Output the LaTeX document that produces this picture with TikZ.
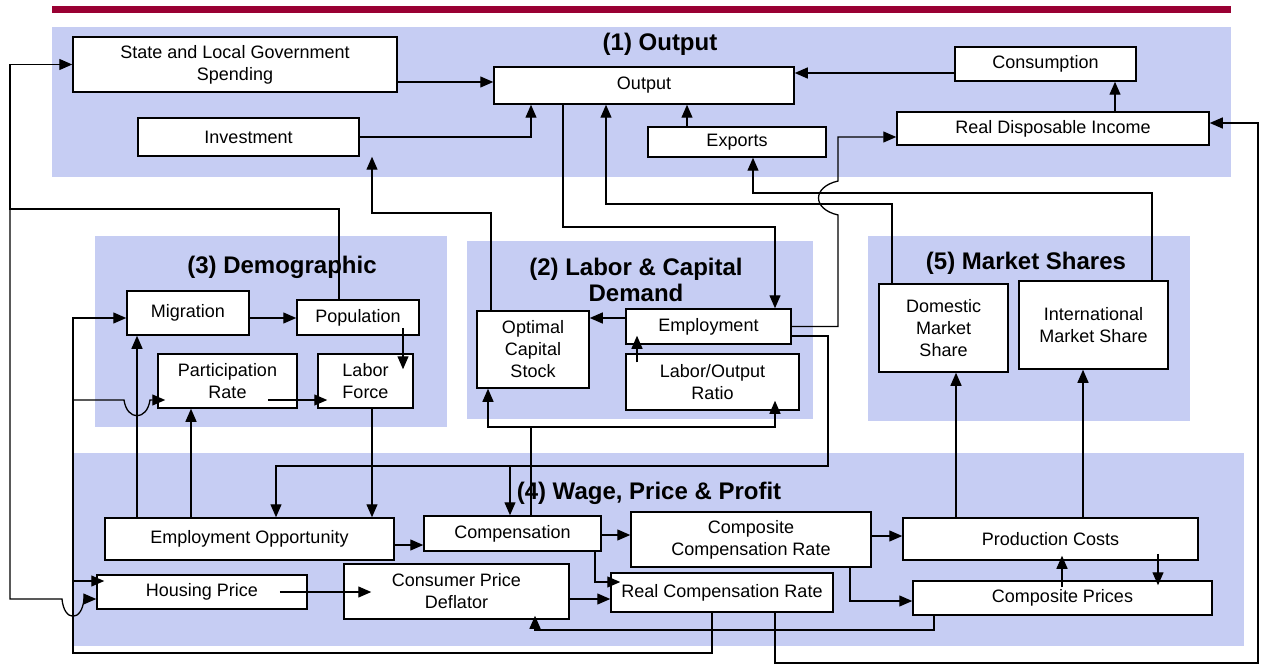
\documentclass[tikz,border=0pt]{standalone}
\usepackage{fontspec}
\setmainfont{Liberation Sans}
\usepackage{tikz}
\usetikzlibrary{arrows.meta}
\definecolor{panelblue}{RGB}{198,205,243}
\definecolor{barred}{RGB}{153,0,51}
\newcommand{\boxfont}{\fontsize{18}{22}\selectfont}
\newcommand{\headfont}{\fontsize{24}{26}\selectfont\bfseries}

\begin{document}
\begin{tikzpicture}[x=1pt, y=-1pt,
  box/.style={draw, line width=1.5pt, fill=white, inner sep=0pt, align=center, font=\boxfont},
  heading/.style={align=center, font=\headfont},
  panel/.style={fill=panelblue},
  flow/.style={-{Triangle[length=13pt,width=11pt]}, line width=1.3pt}]
\useasboundingbox (0,0) rectangle (1263,671);
\fill[barred] (52,6) rectangle (1231,13);
\fill[panel] (52,27) rectangle (1231,177);
\fill[panel] (95,236) rectangle (447,427);
\fill[panel] (467,241) rectangle (813,419);
\fill[panel] (868,236) rectangle (1190,421);
\fill[panel] (73,453) rectangle (1244,646);

\node (HeadOutput) [heading] at (660,44) {(1) Output};
\node (HeadDemographic) [heading] at (282,267) {(3) Demographic};
\node (HeadLabor) [heading] at (636,280) {(2) Labor \& Capital\\Demand};
\node (HeadMarket) [heading] at (1026,263) {(5) Market Shares};
\node (HeadWage) [heading] at (649,493) {(4) Wage, Price \& Profit};

\node (SLGS) [box, minimum width=324pt, minimum height=55pt] at (235,64.5) {State and Local Government\\Spending};
\node (Output) [box, minimum width=300pt, minimum height=37pt] at (644,85.5) {Output};
\node (Consumption) [box, minimum width=181pt, minimum height=34pt] at (1045.5,64) {Consumption};
\node (Investment) [box, minimum width=221pt, minimum height=38pt] at (248.5,137) {Investment};
\node (Exports) [box, minimum width=178pt, minimum height=30pt] at (737,142) {Exports};
\node (RDI) [box, minimum width=312pt, minimum height=33pt] at (1053,128.5) {Real Disposable Income};

\node (Migration) [box, minimum width=122pt, minimum height=44pt] at (188,313) {Migration};
\node (Population) [box, minimum width=122pt, minimum height=35pt] at (358,317.5) {Population};
\node (Participation) [box, minimum width=139pt, minimum height=54pt] at (227.5,381) {Participation\\Rate};
\node (LaborForce) [box, minimum width=95pt, minimum height=54pt] at (365.5,381) {Labor\\Force};

\node (OCS) [box, minimum width=112pt, minimum height=77pt] at (533,349.5) {Optimal\\Capital\\Stock};
\node (Employment) [box, minimum width=165pt, minimum height=35pt] at (708.5,326.5) {Employment};
\node (LORatio) [box, minimum width=173pt, minimum height=56pt] at (712.5,382) {Labor/Output\\Ratio};

\node (DMS) [box, minimum width=129pt, minimum height=88pt] at (943.5,328) {Domestic\\Market\\Share};
\node (IMS) [box, minimum width=149pt, minimum height=88pt] at (1093.5,325) {International\\Market Share};

\node (EO) [box, minimum width=289pt, minimum height=42pt] at (249.5,539) {Employment Opportunity};
\node (Comp) [box, minimum width=177pt, minimum height=35pt] at (512.5,533.5) {Compensation};
\node (CCR) [box, minimum width=240pt, minimum height=55pt] at (751,539.5) {Composite\\Compensation Rate};
\node (PC) [box, minimum width=295pt, minimum height=42pt] at (1050.5,539) {Production Costs};
\node (Housing) [box, minimum width=210pt, minimum height=34pt] at (202,592) {Housing Price};
\node (CPD) [box, minimum width=225pt, minimum height=55pt] at (456.5,591.5) {Consumer Price\\Deflator};
\node (RCR) [box, minimum width=222pt, minimum height=39pt] at (722,592.5) {Real Compensation Rate};
\node (CP) [box, minimum width=299pt, minimum height=34pt] at (1062.5,598) {Composite Prices};

\coordinate (PopBend) at (10,209);
\coordinate (RcrBend) at (73,653);
\coordinate (CompBend) at (531,427);
\coordinate (EmpBend) at (510,466);

% (1) output
\draw[flow] (SLGS.east |- 0,82) -- (Output.west |- 0,82);
\draw[flow] (Investment.east) -| (531,0 |- Output.south);
\draw[flow] (Consumption.west |- 0,73) -- (Output.east |- 0,73);
\draw[flow] (1115,0 |- RDI.north) -- (1115,0 |- Consumption.south);
\draw[flow] (687,0 |- Exports.north) -- (687,0 |- Output.south);
\draw[flow] (563,0 |- Output.south) |- (775,227) -- (775,0 |- Employment.north);
\draw[flow] (491,0 |- OCS.north) |- (372,213) -- (372,0 |- Investment.south);
\draw[flow] (Employment.east) -| (838,215) .. controls (812,209) and (812,187) .. (838,181) |- (RDI.west |- 0,137);
\draw[flow] (892,0 |- DMS.north) |- (606,204) -- (606,0 |- Output.south);
\draw[flow] (1152,0 |- IMS.north) |- (753,193) -- (753,0 |- Exports.south);

% (3) demographic
\draw[flow] (339,0 |- Population.north) |- (PopBend) |- (SLGS.west);
\draw[flow] (PopBend) |- (62,599) .. controls (64,622) and (82,622) .. (84,599) -- (Housing.west |- 0,599);
\draw[flow] (712,0 |- RCR.south) |- (RcrBend) |- (Migration.west |- 0,318);
\draw[flow, shorten >=-8pt] (73,400) -- (124,400) .. controls (127,421) and (147,421) .. (150,400) -- (Participation.west |- 0,400);
\draw[flow, shorten >=-8pt] (73,581) -- (Housing.west |- 0,581);
\draw[flow] (137,0 |- EO.north) -- (137,0 |- Migration.south);
\draw[flow] (191,0 |- EO.north) -- (191,0 |- Participation.south);
\draw[flow] (372,0 |- LaborForce.south) -- (372,0 |- EO.north);
\draw[flow, shorten <=-8pt, shorten >=-16pt] (403,0 |- Population.south) -- (403,0 |- LaborForce.north);
\draw[flow] (Migration.east |- 0,318) -- (Population.west |- 0,318);
\draw[flow, shorten <=-30pt, shorten >=-10pt] (Participation.east |- 0,400) -- (LaborForce.west |- 0,400);

% (2) labor and capital
\draw[flow] (Employment.west |- 0,318) -- (OCS.east |- 0,318);
\draw[flow, shorten <=-9pt, shorten >=-9pt] (637,0 |- LORatio.north) -- (637,0 |- Employment.south);
\draw[flow] (531,0 |- Comp.north) |- (CompBend) -| (488,0 |- OCS.south);
\draw[flow, shorten >=-10pt] (CompBend) -| (775,0 |- LORatio.south);
\draw[flow] (Employment.east |- 0,336) -| (828,466) -| (276,0 |- EO.north);
\draw[flow] (EmpBend) -- (510,0 |- Comp.north);

% (4) wage, price and profit
\draw[flow] (EO.east |- 0,545) -- (Comp.west |- 0,545);
\draw[flow] (Comp.east |- 0,535) -- (CCR.west |- 0,535);
\draw[flow, shorten >=-10pt] (595,0 |- Comp.south) |- (RCR.west |- 0,582);
\draw[flow] (CPD.east |- 0,599) -- (RCR.west |- 0,599);
\draw[flow, shorten <=-28pt, shorten >=-28pt] (Housing.east) -- (CPD.west |- Housing.east);
\draw[flow] (CCR.east |- 0,536) -- (PC.west |- 0,536);
\draw[flow] (850,0 |- CCR.south) |- (CP.west |- 0,601);
\draw[flow, shorten <=-7pt, shorten >=-5pt] (1062,0 |- CP.north) -- (1062,0 |- PC.south);
\draw[flow, shorten <=-7pt, shorten >=-5pt] (1158,0 |- PC.south) -- (1158,0 |- CP.north);
\draw[flow, shorten >=-4pt] (934,0 |- CP.south) |- (535,630) -- (535,0 |- CPD.south);
\draw[flow] (775,0 |- RCR.south) |- (1258,663) |- (RDI.east |- 0,123);

% (5) market shares
\draw[flow] (956,0 |- PC.north) -- (956,0 |- DMS.south);
\draw[flow] (1083,0 |- PC.north) -- (1083,0 |- IMS.south);
\end{tikzpicture}
\end{document}
